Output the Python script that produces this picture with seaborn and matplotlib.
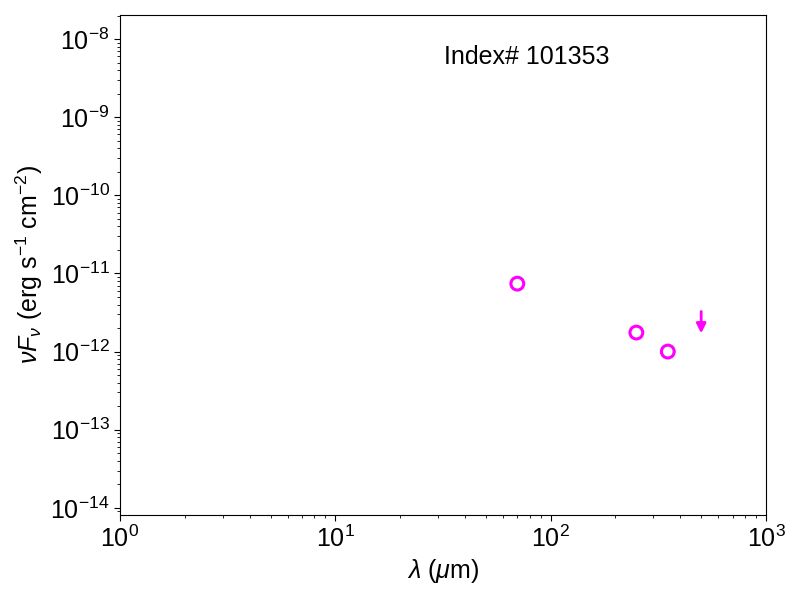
import numpy as np
import pandas as pd
import matplotlib
matplotlib.use("Agg")
import matplotlib.pyplot as plt
import seaborn as sns

# detections (wavelength in micron, nuFnu in erg/s/cm^2)
wavelength = [70, 250, 350]
nufnu = [7.4e-12, 1.75e-12, 1.0e-12]

# upper limits
ul_wavelength = [500]
ul_nufnu = [3.26e-12]

source_label = "Index# 101353"

sns.set_style("ticks")
plt.rcParams["font.family"] = ["Liberation Sans", "DejaVu Sans"]
plt.rcParams["mathtext.fontset"] = "custom"
plt.rcParams["mathtext.rm"] = "Liberation Sans"
plt.rcParams["mathtext.it"] = "Liberation Sans:italic"
plt.rcParams["xtick.direction"] = "out"
plt.rcParams["ytick.direction"] = "out"
for k in ["text.color", "axes.labelcolor", "xtick.color", "ytick.color",
          "axes.edgecolor"]:
    plt.rcParams[k] = "black"

df = pd.DataFrame({"wavelength": wavelength, "nufnu": nufnu})

fig, ax = plt.subplots(figsize=(8, 6), dpi=100)
fig.subplots_adjust(left=0.15, right=0.9575, top=0.975, bottom=0.1417)

sns.scatterplot(data=df, x="wavelength", y="nufnu", ax=ax, marker="o",
                s=85, facecolor="none", edgecolor="magenta", linewidth=2.2)

# upper limits as downward arrows
for w, f in zip(ul_wavelength, ul_nufnu):
    ax.annotate("", xy=(w, f * 10 ** -0.28), xytext=(w, f),
                arrowprops=dict(arrowstyle="-|>", color="magenta", lw=2,
                                mutation_scale=14, shrinkA=0, shrinkB=0))

ax.set_xscale("log")
ax.set_yscale("log")
ax.set_xlim(1, 1000)
ax.set_ylim(8.1e-15, 2.03e-8)

ax.set_xlabel(r"$\lambda$ ($\mu$m)", fontsize=18)
ax.set_ylabel(r"$\nu F_\nu$ (erg s$^{-1}$ cm$^{-2}$)", fontsize=18)
ax.tick_params(axis="both", which="major", labelsize=18, length=4)
ax.tick_params(axis="both", which="minor", length=2.5)

ax.text(0.63, 0.916, source_label, transform=ax.transAxes, fontsize=18,
        ha="center", va="center")

fig.savefig("out.png", dpi=100)
